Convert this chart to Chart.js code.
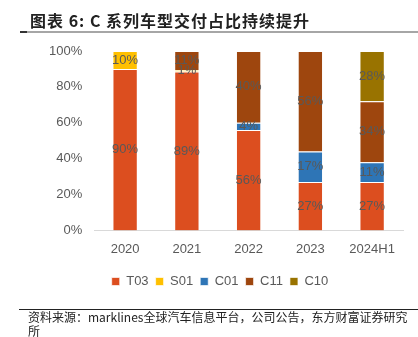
<!DOCTYPE html>
<html>
<head>
<meta charset="utf-8">
<script src="https://cdn.jsdelivr.net/npm/chart.js@4"></script>
<style>
  body { margin: 0; background: #fff; }
  #wrap { position: relative; width: 418px; height: 337px; overflow: hidden; }
  #title { position: absolute; left: 30px; top: 8px; font: bold 16px "Noto Sans CJK SC"; letter-spacing: 1px; color: #222; white-space: nowrap; }
  #tline { position: absolute; left: 20px; top: 31px; width: 398px; height: 2px; background: #a6a6a6; }
  #tmark { position: absolute; left: 20px; top: 31px; width: 7px; height: 2px; background: #333; }
  #sline { position: absolute; left: 19px; top: 309px; width: 399px; height: 1px; background: #222; }
  #source { position: absolute; left: 28px; top: 310px; font: 12px/14px "Noto Sans CJK SC"; color: #222; white-space: nowrap; }
  canvas { position: absolute; left: 0; top: 0; }
</style>
</head>
<body>
<div id="wrap">
  <canvas id="chart" width="418" height="337"></canvas>
  <div id="title">图表 6: C 系列车型交付占比持续提升</div>
  <div id="tline"></div>
  <div id="tmark"></div>
  <div id="sline"></div>
  <div id="source">资料来源：marklines全球汽车信息平台，公司公告，东方财富证券研究<br>所</div>
</div>
<script>
// categories and series (percent of deliveries)
var years = ['2020', '2021', '2022', '2023', '2024H1'];
var t03 = [90, 88.6, 56, 27, 27];
var s01 = [10, 0.8, 0, 0, 0];
var c01 = [0, 0, 4, 17, 11];
var c11 = [0, 10.6, 40, 56, 34];
var c10 = [0, 0, 0, 0, 28];
var yTicks = [0, 20, 40, 60, 80, 100];

var fontName = '"Liberation Sans", Arial, sans-serif';
var textGray = '#595959';

var makeSet = function (label, data, color) {
    return {
        label: label,
        data: data,
        backgroundColor: color,
        borderColor: 'rgba(255,255,255,0.65)',
        borderWidth: 1,
        categoryPercentage: 1,
        barPercentage: 0.41
    };
};

// draw the percentage inside each segment
var segLabels = {
    id: 'segLabels',
    afterDatasetsDraw: function (chart) {
        var ctx = chart.ctx;
        ctx.save();
        ctx.font = '13px ' + fontName;
        ctx.fillStyle = textGray;
        ctx.textAlign = 'center';
        ctx.textBaseline = 'middle';
        chart.data.datasets.forEach(function (ds, i) {
            var meta = chart.getDatasetMeta(i);
            meta.data.forEach(function (bar, j) {
                var v = ds.data[j];
                if (!v) return;
                ctx.fillText(Math.round(v) + '%', bar.x, (bar.y + bar.base) / 2);
            });
        });
        ctx.restore();
    }
};

var config = {
    type: 'bar',
    data: {
        labels: years,
        datasets: [
            makeSet('T03', t03, '#DC4E1F'),
            makeSet('S01', s01, '#FFC000'),
            makeSet('C01', c01, '#2E75B6'),
            makeSet('C11', c11, '#9E460E'),
            makeSet('C10', c10, '#997300')
        ]
    },
    options: {
        responsive: false,
        animation: false,
        layout: {
            padding: { top: 51, left: 37, right: 15, bottom: 39 }
        },
        plugins: {
            tooltip: { enabled: false },
            legend: {
                position: 'bottom',
                labels: {
                    boxWidth: 8,
                    boxHeight: 8,
                    padding: 7,
                    color: textGray,
                    font: { size: 13, family: fontName }
                }
            }
        },
        scales: {
            x: {
                stacked: true,
                grid: { display: false, drawTicks: false },
                border: { display: true, color: '#d9d9d9' },
                ticks: { color: textGray, padding: 11, font: { size: 13, family: fontName } }
            },
            y: {
                stacked: true,
                min: 0,
                max: 100,
                afterBuildTicks: function (axis) {
                    axis.ticks = yTicks.map(function (v) { return { value: v }; });
                },
                grid: { display: false, drawTicks: false },
                border: { display: false },
                ticks: {
                    color: textGray,
                    padding: 12,
                    font: { size: 13, family: fontName },
                    callback: function (v) { return v + '%'; }
                }
            }
        }
    },
    plugins: [segLabels]
};

window.myChart = new Chart(document.getElementById('chart').getContext('2d'), config);
</script>
</body>
</html>
